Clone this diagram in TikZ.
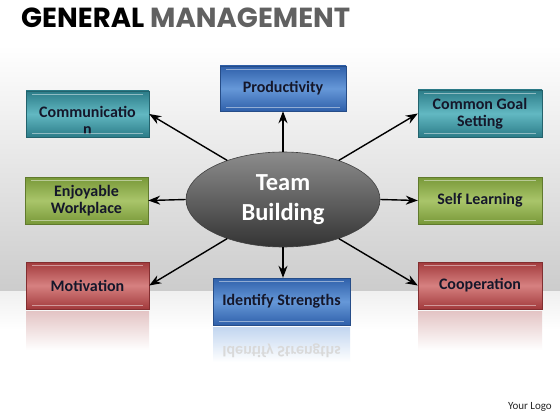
\documentclass[tikz,border=0pt]{standalone}
\usepackage{fontspec}
\setmainfont{Carlito}
\newfontfamily\titlefont{Poppins}
\usetikzlibrary{arrows.meta,shapes.geometric}
\definecolor{tealE}{HTML}{2C7C88}
\definecolor{tealM}{HTML}{62B8C2}
\definecolor{greenE}{HTML}{789838}
\definecolor{greenM}{HTML}{A9C56A}
\definecolor{redE}{HTML}{A23A3C}
\definecolor{redM}{HTML}{D68080}
\definecolor{blueE}{HTML}{2F60AA}
\definecolor{blueM}{HTML}{6698D8}
\definecolor{txt}{HTML}{15172A}
\begin{document}
\begin{tikzpicture}[x=1pt,y=-1pt,
  box/.style={rectangle,inner sep=0pt,font=\bfseries\fontsize{16}{18}\selectfont,text=txt,align=center},
  tealbox/.style={box,top color=tealE,bottom color=tealE,middle color=tealM,draw=tealE!80!black,line width=0.4pt},
  greenbox/.style={box,top color=greenE,bottom color=greenE,middle color=greenM,draw=greenE!80!black,line width=0.4pt},
  redbox/.style={box,top color=redE,bottom color=redE,middle color=redM,draw=redE!80!black,line width=0.4pt},
  bluebox/.style={box,top color=blueE,bottom color=blueE,middle color=blueM,draw=blueE!80!black,line width=0.4pt},
  conn/.style={-{Stealth[length=12pt,width=9pt]},line width=1.4pt,black},
  hl/.style={white,opacity=0.45,line width=0.8pt}]
\useasboundingbox (0,0) rectangle (560,420);
% background
\fill[white] (0,0) rectangle (560,420);
\fill[top color=white,bottom color=black!20] (0,45) rectangle (560,291);
\fill[top color=black!6,bottom color=white] (0,291) rectangle (560,330);
% title
\node[anchor=west,inner sep=0pt,font=\titlefont\bfseries\fontsize{27.6}{31}\selectfont] (title) at (21,18)
  {GENERAL \textcolor{black!62}{MANAGEMENT}};
% reflections
\fill[top color=redE!30,bottom color=white] (26,311) rectangle (149,350);
\fill[top color=redE!30,bottom color=white] (418,311) rectangle (542,350);
\fill[top color=blueM!40,bottom color=white] (213,327) rectangle (350,362);
\node[text=black!15,font=\bfseries\fontsize{16}{18}\selectfont] (refl) at (281.5,351)
  {\scalebox{1}[-1]{Identify Strengths}};
% ellipse
\node[ellipse,minimum width=194pt,minimum height=95pt,inner sep=0pt,
  top color=black!45,bottom color=black!80,middle color=black!62,draw=black!75,line width=0.6pt,
  text=white,align=center,font=\bfseries\fontsize{24.5}{30}\selectfont] (tb) at (283,199.5)
  {Team\\Building};
% boxes
\node[tealbox,minimum width=123pt,minimum height=46pt] (comm) at (87.5,114) {};
\begin{scope}
\clip (26,91) rectangle (149,137);
\node[box,anchor=north] (commt) at (87.5,106) {Communicatio\\[-1pt]n};
\end{scope}
\node[greenbox,minimum width=123pt,minimum height=47pt] (enj) at (86.5,200.5) {Enjoyable\\[-1pt]Workplace};
\node[redbox,minimum width=123pt,minimum height=47pt] (mot) at (87.5,285.5) {Motivation};
\node[tealbox,minimum width=124pt,minimum height=47pt] (cgs) at (480,113.5) {Common Goal\\[-1pt]Setting};
\node[greenbox,minimum width=124pt,minimum height=47pt] (sl) at (480,200.5) {Self Learning};
\node[redbox,minimum width=124pt,minimum height=47pt] (coop) at (480,285.5) {\raisebox{2pt}{Cooperation}};
\node[bluebox,minimum width=126pt,minimum height=45pt] (prod) at (283,88.5) {\raisebox{1pt}{Productivity}};
\node[bluebox,minimum width=137pt,minimum height=47pt] (ids) at (281.5,301.5) {Identify Strengths};
% highlight lines
\foreach \n in {comm,enj,mot,cgs,sl,coop,prod,ids}{
  \draw[hl] ([xshift=6pt,yshift=-4pt]\n.north west) -- ([xshift=-6pt,yshift=-4pt]\n.north east);
  \draw[hl] ([xshift=6pt,yshift=4pt]\n.south west) -- ([xshift=-6pt,yshift=4pt]\n.south east);
}
% connectors
\draw[conn] (tb.145) -- (comm.east);
\draw[conn] (tb.180) -- (enj.east);
\draw[conn] (tb.215) -- (mot.east);
\draw[conn] (tb.90) -- (prod.south);
\draw[conn] (tb.270) -- (tb.270 |- ids.north);
\draw[conn] (tb.35) -- (cgs.west);
\draw[conn] (tb.0) -- (sl.west);
\draw[conn] (tb.-35) -- (coop.west);
% logo
\node[anchor=east,inner sep=0pt,font=\fontsize{11}{13}\selectfont,text=black!85] (logo) at (552,407) {Your Logo};
\end{tikzpicture}
\end{document}
